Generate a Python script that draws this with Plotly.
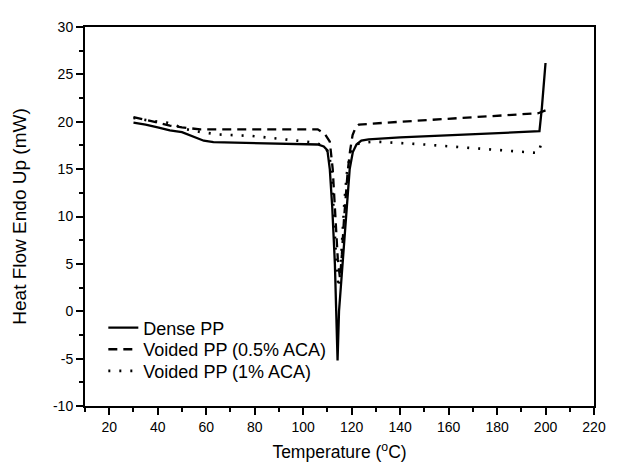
import plotly.graph_objects as go

# Dense PP
dense_t = [30, 35, 40, 45, 50, 55, 59, 63, 70, 80, 90, 100, 106, 108.5, 110, 111, 112, 113.1, 113.7, 114.2,
           114.8, 115.5, 116.3, 117.5, 119.2, 120.5, 122, 124, 127, 140, 160, 180, 197.5, 198.5, 200]
dense_v = [19.9, 19.7, 19.4, 19.1, 18.9, 18.4, 18.0, 17.85, 17.8, 17.75, 17.7, 17.65, 17.6, 17.4, 17.0, 15.0, 11.0, 5.0, 0.0, -5.2,
           0.0, 2.5, 5.0, 10.0, 15.0, 16.8, 17.6, 18.0, 18.15, 18.35, 18.6, 18.8, 19.0, 21.5, 26.2]

# Voided PP (0.5% ACA)
void05_t = [30, 35, 40, 45, 50, 57.5, 70, 90, 106, 109, 111, 112.2, 113.3, 114.3, 115.2, 116.0, 116.8, 117.6,
            118.4, 119.4, 120.4, 121.5, 123, 140, 160, 180, 197, 200]
void05_v = [20.5, 20.2, 19.9, 19.6, 19.4, 19.2, 19.2, 19.2, 19.2, 18.7, 17.9, 15.0, 10.0, 5.5, 3.5, 6.0, 9.5, 12.5,
            14.8, 17.0, 18.6, 19.3, 19.7, 20.0, 20.3, 20.6, 20.9, 21.2]

# Voided PP (1% ACA)
void1_t = [30, 37, 44, 52, 58, 65.5, 79, 92.8, 105, 109, 110.8, 111.8, 112.8, 113.7, 114.6, 115.4, 116.2, 117.0,
           118.0, 119.2, 120.5, 122, 124, 130, 150, 170, 197, 198.5]
void1_v = [20.4, 20.1, 19.9, 19.2, 18.9, 18.65, 18.5, 18.1, 17.8, 17.4, 16.5, 14.5, 10.0, 5.0, 2.5, 4.5, 8.0, 11.5,
           14.5, 16.3, 17.2, 17.6, 17.8, 17.9, 17.6, 17.2, 16.7, 17.9]

series_names = ["Dense PP", "Voided PP (0.5% ACA)", "Voided PP (1% ACA)"]
x_ticks = [20, 40, 60, 80, 100, 120, 140, 160, 180, 200, 220]
y_ticks = [-10, -5, 0, 5, 10, 15, 20, 25, 30]

font = "Arial, Liberation Sans, sans-serif"

fig = go.Figure()
fig.add_trace(go.Scatter(x=dense_t, y=dense_v, mode="lines", name=series_names[0], legend="legend",
                         line=dict(color="black", width=2.3, dash="solid")))
fig.add_trace(go.Scatter(x=void05_t, y=void05_v, mode="lines", name=series_names[1], legend="legend2",
                         line=dict(color="black", width=2.3, dash="9px,6px")))
fig.add_trace(go.Scatter(x=void1_t, y=void1_v, mode="lines", name=series_names[2], legend="legend3",
                         line=dict(color="black", width=2.6, dash="2px,9px")))

leg_common = dict(x=0.036, xanchor="left", yanchor="middle", bgcolor="rgba(0,0,0,0)",
                  font=dict(size=18, family=font, color="black"), itemwidth=30)

# the page body has an 8px default margin, so the figure is sized/margined to compensate
fig.update_layout(
    width=609, height=462,
    margin=dict(l=76, r=11, t=11, b=62),
    paper_bgcolor="white", plot_bgcolor="white",
    font=dict(family=font, color="black"),
    showlegend=True,
    legend=dict(y=0.206, **leg_common),
    legend2=dict(y=0.149, **leg_common),
    legend3=dict(y=0.092, **leg_common),
)
fig.update_xaxes(
    range=[10, 220], tickvals=x_ticks, ticktext=[str(v) for v in x_ticks],
    ticks="outside", ticklen=7, tickwidth=1.5, tickcolor="black",
    minor=dict(dtick=10, tick0=0, ticks="outside", ticklen=4, tickwidth=1.5, tickcolor="black"),
    showline=True, linecolor="black", linewidth=2, mirror=True,
    showgrid=False, zeroline=False,
    tickfont=dict(size=14, family=font, color="black"),
    title=dict(text="Temperature (<sup>o</sup>C)", font=dict(size=17.5, family=font, color="black"), standoff=12),
)
fig.update_yaxes(
    range=[-10, 30], tickvals=y_ticks, ticktext=[str(v) for v in y_ticks],
    ticks="outside", ticklen=7, tickwidth=1.5, tickcolor="black",
    minor=dict(dtick=2.5, tick0=0, ticks="outside", ticklen=4, tickwidth=1.5, tickcolor="black"),
    showline=True, linecolor="black", linewidth=2, mirror=True,
    showgrid=False, zeroline=False,
    tickfont=dict(size=14, family=font, color="black"),
    title=dict(text="Heat Flow Endo Up (mW)", font=dict(size=19, family=font, color="black"), standoff=21),
)

fig.write_html("out.html")
